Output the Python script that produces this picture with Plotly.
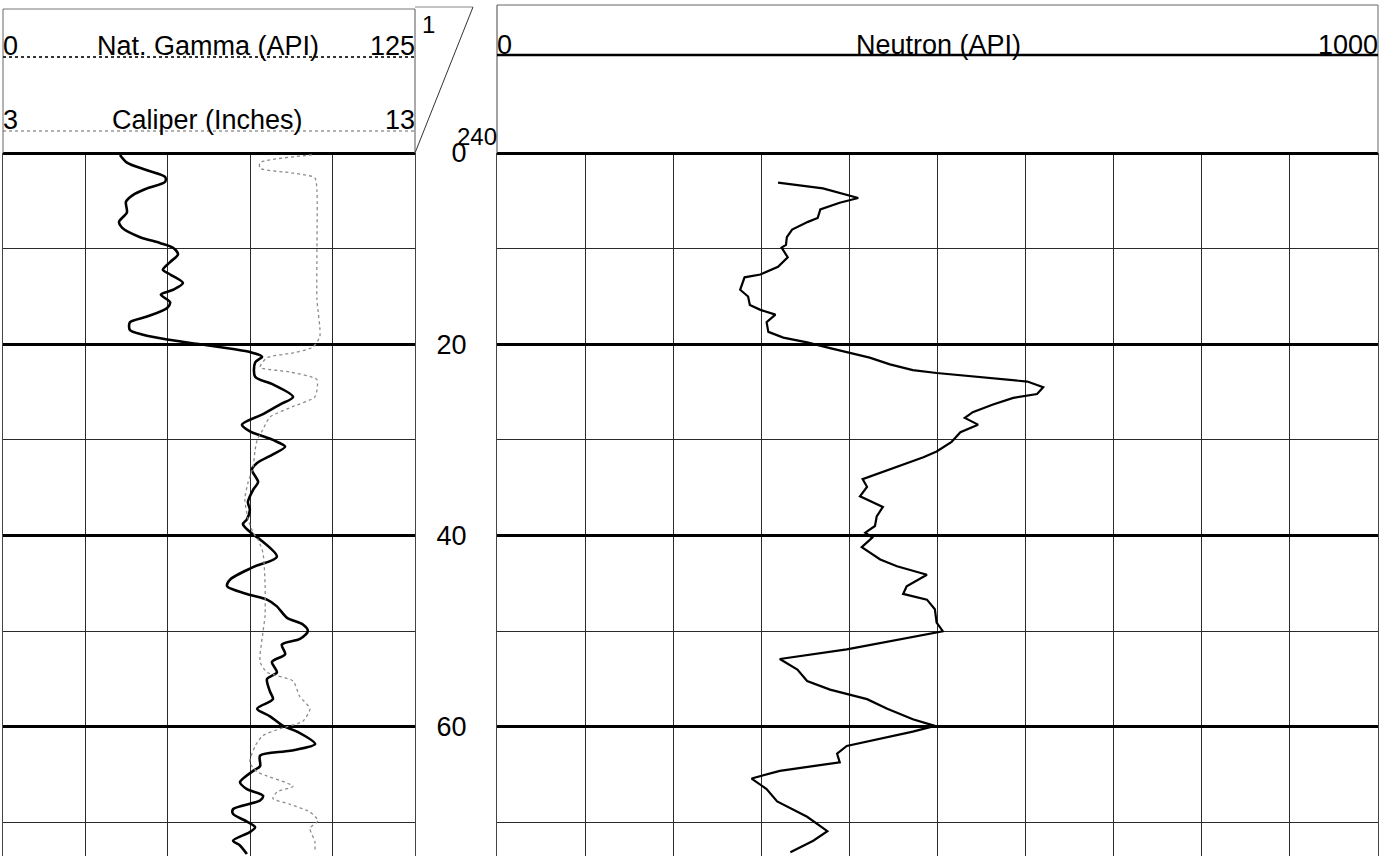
import plotly.graph_objects as go

W, H = 1390, 856

# ---------------- data ----------------
DEPTH_STEP = 20
DEPTH_MINOR = 10
DEPTH_RANGE = [73.5, 0]
GAMMA_SCALE = [0, 125]
CALIPER_SCALE = [3, 13]
NEUTRON_SCALE = [0, 1000]
DEPTH_SCALE_LABELS = ["1", "240"]

gamma_depth = [0.2, 1.0, 1.8, 2.5, 3.0, 3.7, 4.4, 5.1, 6.2, 7.2, 7.8, 8.8, 9.4, 9.9, 10.6,
               11.4, 12.2, 12.7, 13.6, 14.3, 14.8, 15.6, 16.2, 17.1, 17.7, 18.5, 19.0, 19.5,
               20.0, 20.5, 20.8, 21.3, 21.9, 23.4, 24.2, 25.5, 26.3, 27.3, 28.4, 29.1, 30.0,
               30.7, 31.5, 32.4, 33.1, 34.4, 35.2, 36.5, 37.3, 38.3, 38.8, 39.9, 40.4, 42.2,
               43.3, 44.6, 45.3, 46.1, 46.7, 47.4, 48.6, 49.3, 50.0, 50.8, 51.4, 52.4, 53.2,
               54.3, 55.0, 56.3, 57.1, 58.1, 58.9, 59.9, 60.5, 61.8, 62.5, 63.0, 64.1, 64.6,
               65.8, 66.5, 67.2, 67.7, 68.6, 69.1, 69.9, 70.5, 71.0, 71.9, 72.4, 73.3]
gamma_api = [35.5, 37.6, 43.7, 49.2, 49.2, 43.7, 39.4, 37.3, 37.6, 35.2, 36.1, 41.6, 47.6, 51.6, 53.1,
             50.7, 48.5, 50.7, 54.6, 51.6, 47.9, 50.7, 49.8, 43.7, 38.5, 38.5, 42.5, 49.8,
             59.8, 69.8, 74.9, 78.6, 76.5, 76.5, 81.9, 88.0, 84.0, 78.9, 72.5, 74.9, 81.9,
             85.6, 81.9, 77.1, 75.5, 77.4, 75.9, 74.3, 74.9, 74.0, 72.8, 75.9, 78.0, 83.1,
             75.9, 68.9, 68.0, 74.0, 80.1, 83.1, 86.2, 91.0, 92.5, 90.1, 84.6, 85.6, 81.6,
             83.1, 80.1, 81.0, 81.9, 77.1, 81.0, 85.0, 89.2, 94.7, 87.1, 78.0, 78.0, 75.9,
             71.9, 74.0, 78.9, 78.0, 69.8, 69.8, 74.0, 76.5, 74.9, 69.8, 71.9, 74.0]

caliper_depth = [0.2, 1.0, 1.6, 2.1, 2.6, 3.9, 10.1, 15.3, 19.2, 20.3, 20.9, 21.4, 22.4, 22.9, 23.7,
                 25.5, 26.5, 27.6, 28.9, 30.0, 31.0, 32.8, 34.4, 36.2, 38.3, 39.7, 40.4, 41.8,
                 44.9, 48.4, 50.1, 53.2, 54.3, 55.2, 56.8, 58.1, 59.4, 60.2, 60.9, 62.0, 63.7,
                 64.7, 66.2, 66.8, 67.5, 68.1, 68.9, 69.8, 70.6, 72.0, 73.1]
caliper_in = [10.5, 9.24, 9.24, 10.04, 10.57, 10.62, 10.62, 10.62, 10.69, 10.52, 10.04, 9.41, 9.24, 9.97, 10.62,
              10.57, 10.04, 9.48, 9.31, 9.17, 9.12, 9.07, 8.95, 8.87, 8.95, 9.07, 9.19, 9.31,
              9.36, 9.36, 9.31, 9.24, 9.41, 10.04, 10.2, 10.45, 10.28, 9.72, 9.31, 9.12, 8.99,
              9.17, 10.04, 9.65, 9.55, 9.97, 10.45, 10.65, 10.45, 10.57, 10.57]

neutron_depth = [3.1, 3.7, 4.7, 5.2, 5.9, 6.8, 7.2, 8.0, 8.8, 9.6, 9.9, 10.9, 11.9, 12.7, 13.0,
                 14.3, 15.0, 15.9, 16.4, 16.9, 17.7, 18.7, 19.3, 19.8, 20.4, 20.9, 21.4, 22.1,
                 22.7, 23.0, 23.4, 23.9, 24.5, 25.2, 25.6, 26.3, 27.1, 27.7, 28.4, 29.2, 30.2,
                 31.2, 31.8, 33.1, 34.1, 34.9, 35.9, 37.0, 38.0, 39.0, 39.7, 40.2, 41.2, 42.5,
                 43.2, 44.1, 45.3, 46.1, 46.7, 47.7, 49.1, 50.0, 50.6, 51.9, 52.9, 54.0, 55.2,
                 56.1, 57.1, 58.1, 59.2, 59.9, 60.5, 62.0, 62.8, 63.7, 64.6, 65.4, 66.5, 67.8,
                 69.4, 70.9, 71.9, 73.1]
neutron_api = [319, 370, 410, 389, 367, 364, 353, 335, 329, 328, 323, 330, 319, 299, 281,
               276, 285, 287, 299, 316, 306, 308, 325, 352, 378, 401, 423, 446,
               472, 499, 548, 602, 620, 613, 586, 563, 540, 531, 546, 526, 516,
               499, 484, 446, 415, 420, 412, 438, 431, 429, 418, 426, 414, 435,
               454, 488, 465, 461, 488, 497, 499, 506, 472, 397, 321, 341, 352,
               378, 420, 443, 472, 497, 472, 397, 386, 389, 321, 289, 306, 318,
               352, 375, 359, 333]

assert len(gamma_depth) == len(gamma_api)
assert len(caliper_depth) == len(caliper_in)
assert len(neutron_depth) == len(neutron_api)

# ---------------- helpers ----------------
def px(x):
    return x / W


def py(y):
    return 1 - y / H


FONT = "Liberation Sans"

fig = go.Figure()
fig.add_trace(go.Scatter(x=caliper_in, y=caliper_depth, xaxis="x2", yaxis="y", mode="lines",
                         line=dict(color="#8c8c8c", width=1.3, dash="dot", shape="spline", smoothing=0.6),
                         hoverinfo="skip", showlegend=False))
fig.add_trace(go.Scatter(x=gamma_api, y=gamma_depth, xaxis="x", yaxis="y", mode="lines",
                         line=dict(color="black", width=2.6, shape="spline", smoothing=0.8),
                         showlegend=False))
fig.add_trace(go.Scatter(x=neutron_api, y=neutron_depth, xaxis="x3", yaxis="y2", mode="lines",
                         line=dict(color="black", width=2.2), showlegend=False))

grid = dict(showgrid=True, gridcolor="#2a2a2a", gridwidth=1, automargin=False)
ycommon = dict(domain=[0, py(153)], range=DEPTH_RANGE, tickmode="linear", tick0=0, dtick=DEPTH_STEP,
               showgrid=True, gridcolor="black", gridwidth=3, automargin=False,
               minor=dict(dtick=DEPTH_MINOR, tick0=0, showgrid=True, gridcolor="#2a2a2a", gridwidth=1),
               zeroline=True, zerolinecolor="black", zerolinewidth=3,
               showline=True, mirror=True, linecolor="#444", linewidth=1)

fig.update_layout(
    width=W, height=H, margin=dict(l=0, r=0, t=0, b=0, pad=0, autoexpand=False),
    paper_bgcolor="white", plot_bgcolor="white",
    font=dict(family=FONT, color="black"),
    xaxis=dict(domain=[px(3), px(415)], range=GAMMA_SCALE, tick0=0, dtick=25, showticklabels=False,
               ticks="", zeroline=False, anchor="y", **grid),
    xaxis2=dict(overlaying="x", range=CALIPER_SCALE, visible=False, anchor="y", automargin=False),
    xaxis3=dict(domain=[px(497), px(1378)], range=NEUTRON_SCALE, tick0=0, dtick=100, showticklabels=False,
                ticks="", zeroline=False, anchor="y2", **grid),
    yaxis=dict(anchor="x", showticklabels=False, ticks="", **ycommon),
    yaxis2=dict(anchor="x3", matches="y", side="left", showticklabels=True, ticks="",
                ticklabelstandoff=24, tickfont=dict(size=27, color="black", family=FONT), **ycommon),
)


def label(text, x, y, xanchor, size=27):
    return dict(text=text, x=px(x), y=py(y), xref="paper", yref="paper", xanchor=xanchor,
                yanchor="middle", showarrow=False, font=dict(size=size, color="black", family=FONT),
                borderpad=0)


ann = [
    label(str(GAMMA_SCALE[0]), 2, 46, "left"),
    label("Nat. Gamma (API)", 208, 46, "center"),
    label(str(GAMMA_SCALE[1]), 416, 46, "right"),
    label(str(CALIPER_SCALE[0]), 2, 120, "left"),
    label("Caliper (Inches)", 207, 120, "center"),
    label(str(CALIPER_SCALE[1]), 416, 120, "right"),
    label(str(NEUTRON_SCALE[0]), 496, 45, "left"),
    label("Neutron (API)", 938, 45, "center"),
    label(str(NEUTRON_SCALE[1]), 1379, 45, "right"),
    label(DEPTH_SCALE_LABELS[0], 428, 25, "center", 24),
    label(DEPTH_SCALE_LABELS[1], 498, 137, "right", 24),
]
fig.update_layout(annotations=ann)


def seg(x0, y0, x1, y1, color="#555", width=1, dash="solid"):
    return dict(type="line", xref="paper", yref="paper", x0=px(x0), y0=py(y0), x1=px(x1), y1=py(y1),
                line=dict(color=color, width=width, dash=dash), layer="above")


shapes = [
    # left header box
    seg(3, 9, 415, 9, "#777", 1),
    seg(3, 9, 3, 153, "#666", 1),
    seg(415, 9, 415, 153, "#555", 1),
    seg(3, 57, 415, 57, "#333", 2, "dot"),
    seg(3, 131, 415, 131, "#666", 1, "dot"),
    # depth header
    seg(415, 7, 473, 7, "#888", 1),
    seg(473, 7, 415, 153, "#333", 1),
    # right header box
    seg(497, 5, 1378, 5, "#666", 1),
    seg(497, 5, 497, 153, "#444", 1),
    seg(1378, 5, 1378, 153, "#666", 1),
    seg(497, 55, 1378, 55, "black", 2.5),
]
fig.update_layout(shapes=shapes)

fig.write_html(
    "out.html",
    config={"displayModeBar": False},
    post_script="document.body.style.margin='0';document.body.style.padding='0';"
                "document.body.style.overflow='hidden';",
)
